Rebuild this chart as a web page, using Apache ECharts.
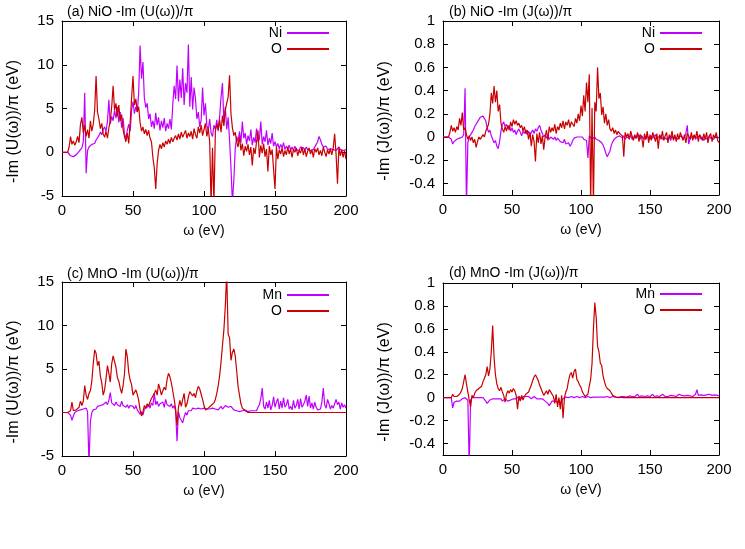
<!DOCTYPE html>
<html>
<head>
<meta charset="utf-8">
<script src="https://cdn.jsdelivr.net/npm/echarts@6/dist/echarts.min.js"></script>
<style>
html, body { margin: 0; padding: 0; background: #fff; }
#main { width: 745px; height: 549px; }
</style>
</head>
<body>
<div id="main"></div>
<script>
// omega grid, 1 eV step
var omega = [];
for (var i = 0; i <= 200; i++) omega.push(i);

var xTicks = [0, 50, 100, 150, 200];
var uTicks = [-5, 0, 5, 10, 15];
var jTicks = [-0.4, -0.2, 0, 0.2, 0.4, 0.6, 0.8, 1];

// (a) NiO -Im U
var aNi = [
  0, 0, 0, 0, 0, -0.2, -0.4, -0.6, -0.5, -0.4,
  -0.3, -0.1, 0.1, 0.3, 0.5, 1.2, 6.8, -2.4, 0.2, 0.6,
  0.8, 0.9, 1.1, 1.0, 1.4, 1.6, 1.9, 2.3, 2.0, 2.6,
  2.9, 2.4, 3.5, 6.0, 3.2, 4.1, 3.6, 4.8, 3.9, 5.2,
  3.4, 4.6, 2.8, 3.9, 2.1, 1.6, 2.5, 3.2, 2.4, 4.8,
  5.8, 4.4, 5.2, 4.6, 6.8, 12.2, 8.4, 10.3, 6.2, 5.1,
  5.6, 3.8, 4.4, 2.9, 3.6, 2.7, 4.5, 3.1, 4.0, 2.5,
  3.6, 2.8, 3.9, 2.4, 3.3, 2.7, 3.8, 2.6, 5.4, 7.6,
  6.1, 9.9, 5.8, 8.3, 6.2, 9.6, 5.4, 7.9, 6.8, 12.3,
  5.2, 8.6, 4.9, 7.4, 6.1, 3.8, 4.6, 2.9, 3.7, 7.4,
  4.2, 5.6, 3.1, 2.5, 3.8, 2.2, 1.8, 3.1, 2.6, 3.7,
  2.4, 4.1, 6.3, 7.9, 3.4, 5.2, 2.6, 4.0, 1.4, -1.8,
  -5.8, -3.2, 0.4, 1.8, 1.2, 2.4, 1.1, 3.5, 1.6, 2.2,
  0.9, 1.9, 1.3, 2.6, 0.8, 1.7, 1.1, 2.7, 1.2, 1.5,
  3.5, 0.9, 1.8, 1.2, 2.5, 0.8, 1.6, 1.0, 2.2, 0.7,
  1.2, 0.6, 1.0, 0.4, 0.9, 0.5, 1.1, 0.3, 0.7, 0.4,
  0.8, 0.3, 0.6, 0.2, 0.7, 0.3, 0.5, 0.2, 0.6, 0.4,
  0.5, 0.2, 0.6, 0.3, 0.5, 0.2, 0.4, 0.3, 0.5, 0.9,
  1.2, 1.8, 1.4, 0.9, 0.6, 0.4, 0.7, 0.3, 0.5, 0.4,
  0.6, 0.3, 0.5, 0.2, 0.4, 0.6, 0.3, 0.5, 0.2, 0.4,
  0.3
];
var aO = [
  0, 0, 0, 0, 0, 0.6, 1.8, 0.9, 1.3, 0.8,
  1.2, 1.8, 1.1, 3.2, 4.0, 2.2, 3.1, 1.8, 2.6, 1.6,
  3.6, 2.4, 3.2, 4.8, 8.7, 4.6, 3.8, 2.7, 3.3, 2.1,
  1.7, 2.4, 1.6, 2.8, 3.6, 5.2, 7.6, 4.8, 5.6, 4.1,
  5.4, 3.6, 4.3, 2.6, 1.8, 1.2, 2.2, 1.0, 3.4, 6.2,
  8.7, 5.4, 6.1, 4.6, 5.2, 3.4, 2.4, 2.9, 2.1, 2.6,
  1.9, 2.5, 1.6, 1.2, -0.6, -1.8, -4.2, -1.3, 0.2, 0.9,
  0.4, 1.1, 0.6, 1.3, 0.9, 1.5, 1.0, 1.7, 1.2, 1.6,
  1.9, 1.4, 2.1, 1.5, 2.3, 1.7, 1.9, 2.5, 1.6, 2.2,
  1.8, 2.4, 1.5, 2.7, 2.0, 1.6, 2.9, 2.2, 3.1, 1.9,
  2.6, 3.3, 1.8, 2.7, 1.2, -6.0, 0.5, -6.0, 2.4, 3.2,
  2.6, 3.7, 2.3, 4.2, 3.0, 4.8, 5.6, 6.3, 8.8, 4.4,
  2.8, 1.9, 2.3, 1.2, 0.6, 1.8, 0.2, 1.0, -0.4, 0.7,
  0.1, 0.9, -0.3, 0.6, -1.5, 0.5, -0.2, 1.2, 2.5, -0.6,
  0.8, -0.1, 1.0, -0.5, 0.4, -2.2, 0.7, -0.3, 0.3, 0.5,
  -4.2, 0.6, -0.8, 0.3, -0.2, 0.5, -0.5, 0.2, -0.3, 0.6,
  -0.2, 0.4, -0.6, 0.3, 0.0, 0.5, -0.4, 0.2, -0.1, 0.6,
  -0.3, 0.4, -0.5, 0.1, 0.5, -0.2, 0.3, -0.6, 0.4, 0.0,
  0.5, -0.3, 0.2, -0.4, 0.6, 0.0, -0.5, 0.3, -0.2, 0.4,
  -0.3, 0.5, 2.1, -0.2, -3.6, 0.6, -0.4, 0.3, -0.6, 0.2,
  -0.8
];

// (b) NiO -Im J
var bNi = [
  0, 0, 0, 0, 0, 0, -0.02, -0.06, -0.04, -0.03,
  -0.02, -0.02, -0.01, -0.01, 0.0, 0.02, 0.42, -0.6, -0.05, 0.0,
  0.02, 0.04, 0.06, 0.09, 0.11, 0.13, 0.15, 0.17, 0.16, 0.18,
  0.17, 0.14, 0.08, 0.04, 0.06, 0.01, -0.02, -0.05, -0.03, -0.08,
  -0.1, -0.04, 0.05, 0.11, 0.13, 0.09, 0.11, 0.07, 0.1, 0.05,
  0.08, 0.04, 0.06, 0.02, 0.05, 0.07, 0.04, 0.01, 0.05, 0.03,
  0.06, 0.02, 0.05, 0.01, 0.04, 0.06, 0.03, 0.07, 0.05, 0.08,
  0.1, 0.06, 0.03, 0.0, 0.02, -0.01, 0.01, -0.02, 0.0, -0.01,
  -0.02, 0.0, -0.03, -0.01, -0.02, -0.04, -0.03, -0.05, -0.02, -0.06,
  -0.07, -0.05, -0.08, -0.06, -0.03, -0.01, -0.02, 0.0, -0.01, 0.0,
  -0.01, 0.0, -0.02, -0.01, -0.03, -0.18, 0.01, 0.0, -0.02, -0.01,
  0.0, -0.02, -0.01, -0.03, -0.02, -0.05, -0.07, -0.1, -0.14, -0.17,
  -0.16, -0.12, -0.07, -0.04, -0.02, -0.01, 0.0, -0.01, 0.01, 0.0,
  -0.01, 0.01, -0.02, 0.0, 0.01, -0.01, 0.02, -0.02, 0.0, 0.01,
  -0.01, 0.0, 0.02, -0.02, 0.01, -0.01, 0.0, -0.02, 0.01, 0.0,
  -0.02, 0.01, -0.01, 0.0, 0.02, -0.02, 0.0, -0.01, 0.01, -0.02,
  0.0, 0.01, -0.02, -0.01, 0.0, -0.03, 0.01, -0.02, 0.0, -0.01,
  -0.02, 0.0, -0.01, 0.01, -0.02, 0.0, 0.03, 0.1, -0.06, -0.02,
  0.0, -0.01, 0.01, -0.02, 0.0, -0.01, 0.01, -0.02, 0.0, -0.03,
  -0.01, 0.0, -0.02, 0.01, -0.01, 0.0, -0.02, 0.0, -0.01, 0.0,
  -0.01
];
var bO = [
  0, 0, 0, 0, 0, 0.04, 0.1, 0.05, 0.08, 0.04,
  0.09, 0.06, 0.16, 0.1, 0.21, 0.06, 0.08, 0.02, -0.02, 0.01,
  -0.03, 0.0, -0.05, -0.02, -0.09, -0.04, 0.0, -0.02, -0.01, 0.02,
  0.0, 0.05, 0.08, 0.11, 0.2, 0.38, 0.29, 0.44, 0.3, 0.4,
  0.22, 0.28, 0.12, 0.07, 0.04, 0.09, 0.05, 0.1, 0.06, 0.13,
  0.09, 0.15, 0.11, 0.14, 0.1, 0.12, 0.08, 0.1, 0.05, 0.09,
  0.03, 0.06, -0.02, 0.04, -0.08, 0.02, -0.04, -0.21, 0.03, -0.05,
  0.04, -0.06, 0.01, -0.11, 0.0, 0.06, -0.03, 0.09, 0.04, 0.08,
  0.05, 0.11, 0.03, 0.09, 0.06, 0.12, 0.08, 0.14, 0.07, 0.13,
  0.1, 0.15, 0.08, 0.13, 0.11, 0.09, 0.16, 0.12, 0.2, 0.14,
  0.27, 0.18, 0.36, 0.22, 0.47, 0.3, 0.54, -0.6, 0.25, -0.6,
  0.3, 0.22, 0.6, 0.33, 0.38, 0.19, 0.26, 0.12, 0.2, 0.1,
  0.15, 0.07, 0.05, 0.08, 0.03, 0.06, 0.02, 0.05, 0.03, 0.04,
  0.01, -0.17, 0.04, 0.0, 0.03, -0.02, 0.05, 0.01, -0.03, 0.02,
  -0.01, 0.04, -0.04, 0.02, 0.0, -0.09, 0.03, -0.02, 0.05, -0.05,
  0.02, -0.03, 0.04, 0.0, -0.04, 0.03, -0.1, 0.02, -0.02, 0.05,
  -0.03, 0.01, 0.04, -0.05, 0.02, -0.01, 0.05, -0.03, 0.02, -0.04,
  0.03, -0.02, 0.04, 0.0, -0.03, 0.02, -0.05, 0.03, 0.01, -0.02,
  0.04, -0.03, 0.02, -0.01, 0.05, -0.04, 0.02, 0.0, -0.03, 0.03,
  -0.02, 0.04, -0.05, 0.01, 0.03, -0.04, 0.02, -0.01, 0.04, -0.03,
  -0.05
];

// (c) MnO -Im U
var cMn = [
  0, 0, 0, 0, 0, 0, -0.3, -0.9, -0.4, 0.0,
  0.1, 0.2, 0.1, 0.3, 0.2, 0.4, 0.3, 0.5, 0.1, -6.0,
  -1.0, 0.0, 0.3, 0.5, 0.4, 0.7, 0.6, 0.8, 0.7, 0.9,
  1.0, 1.2, 0.9, 1.4, 2.3, 1.1, 1.3, 0.8, 1.2, 0.9,
  1.1, 0.7, 1.3, 0.8, 1.0, 0.6, 0.9, 0.5, 0.8, 0.6,
  0.7, 0.4, 0.8, 0.3, 0.5, -0.2, 0.1, -0.3, 0.4, 0.2,
  0.6, 0.9, 0.5, 1.1, 0.8, 2.2, 0.9, 1.3, 0.7, 1.0,
  0.8, 1.2, 0.6, 1.5, 0.9, 1.1, 0.7, 1.0, 0.5, 0.8,
  0.2, -3.3, 0.1, -0.6, -0.9, -1.2, -0.5, 0.0, -0.3, 0.2,
  0.4, 0.2, 0.5, 0.3, 0.4, 0.2, 0.5, 0.3, 0.4, 0.3,
  0.5, 0.3, 0.4, 0.6, 0.4, 0.3, 0.5, 0.7, 0.4, 0.6,
  0.3, 0.5, 0.7, 0.4, 0.6, 0.8, 1.0, 0.6, 0.4, 0.7,
  0.5, 0.3, 0.4, 0.2, 0.3, 0.1, 0.3, 0.2, 0.1, 0.3,
  0.2, 0.1, 0.3, 0.2, 0.1, 0.2, 0.3, 0.2, 0.6, 0.9,
  1.6, 2.8, 0.7, 0.4, 1.2, 0.5, 1.4, 0.3, 0.8, 1.8,
  0.6, 1.2, 1.6, 0.4, 1.3, 0.5, 1.7, 0.6, 0.9, 1.5,
  0.4, 0.7, 0.3, 1.4, 0.5, 0.8, 1.5, 0.4, 1.6, 0.6,
  0.9, 1.3, 2.0, 0.7, 1.9, 0.5, 1.1, 0.4, 1.2, 0.6,
  0.3, 0.5, 0.4, 1.2, 2.8, 0.9, 0.5, 1.5, 1.0, 0.4,
  0.8, 0.5, 0.3, 1.5, 0.9, 1.2, 0.4, 1.1, 0.6, 0.9,
  0.5
];
var cO = [
  0, 0, 0, 0, 0, 0, 0.2, 1.2, 0.2, 0.1,
  0.3, 0.2, 0.6, 1.3, 0.8, 1.3, 3.1, 2.0, 1.5, 2.2,
  2.5, 3.6, 5.6, 7.2, 6.8, 5.4, 5.9, 4.2, 3.4, 2.0,
  2.6, 3.9, 5.4, 4.5, 3.5, 5.6, 6.5, 6.3, 5.2, 4.0,
  3.6, 2.8, 2.2, 3.1, 4.4, 7.3, 6.4, 4.6, 3.7, 3.2,
  2.0, 2.3, 2.6, 2.1, 1.4, 0.3, -0.4, 0.1, 0.8, 0.5,
  1.0, 0.7, 1.2, 1.6, 1.9, 2.2, 2.6, 2.0, 3.3, 2.7,
  2.0, 2.5, 2.9, 2.6, 3.8, 4.5, 4.1, 3.4, 2.5, 1.5,
  0.4, -1.5, 0.6, 1.4, 0.7, 1.5, 2.2, 0.6, 1.0, 1.8,
  2.4, 2.6, 1.9, 2.2, 1.7, 2.5, 3.0, 2.7, 2.1, 1.5,
  0.8, 0.3, 0.2, 0.5, 0.4, 0.8, 0.6, 1.1, 1.5, 2.2,
  3.1, 4.2, 5.8, 7.7, 9.5, 12.2, 16.0, 9.0, 8.6, 6.0,
  6.9, 7.3, 6.5, 4.8, 3.0, 2.0, 1.0, 0.5, 0.3, 0.2,
  0.1, 0.0, -0.1, 0.0, -0.1, 0.0, 0.05, 0.0, 0.03, 0.0,
  0, 0, 0, 0, 0, 0, 0, 0, 0, 0,
  0, 0, 0, 0, 0, 0, 0, 0, 0, 0,
  0, 0, 0, 0, 0, 0, 0, 0, 0, 0,
  0, 0, 0, 0, 0, 0, 0, 0, 0, 0,
  0, 0, 0, 0, 0, 0, 0, 0, 0, 0,
  0, 0, 0, 0, 0, 0, 0, 0, 0, 0,
  0
];

// (d) MnO -Im J
var dMn = [
  0, 0, 0, 0, 0, 0, 0, -0.09, -0.04, -0.03,
  -0.03, -0.02, -0.03, -0.02, -0.01, -0.01, 0.0, -0.01, -0.02, -0.6,
  -0.02, 0.0, 0.01, 0.0, 0.01, 0.0, 0.01, 0.0, 0.01, 0.0,
  -0.01, -0.03, -0.05, -0.04, -0.02, -0.01, -0.01, -0.02, -0.01, -0.02,
  -0.01, -0.02, -0.01, -0.03, -0.02, -0.01, -0.02, -0.03, -0.04, -0.02,
  -0.03, -0.01, 0.0, -0.01, 0.0, 0.01, 0.0, -0.01, 0.01, 0.0,
  0.01, 0.0, 0.01, 0.0, -0.01, 0.0, 0.01, 0.0, -0.01, 0.0,
  -0.01, -0.02, -0.01, -0.02, -0.03, -0.04, -0.05, -0.07, -0.05, -0.03,
  -0.02, -0.03, -0.02, -0.04, -0.02, -0.05, -0.03, -0.01, 0.0, 0.005,
  0.005, 0.0, 0.005, 0.01, 0.005, 0.0, 0.005, 0.01, 0.005, 0.0,
  0.005, 0.01, 0.005, 0.0, 0.005, 0.01, 0.005, 0.0, 0.01, 0.005,
  0.0, 0.005, 0.01, 0.005, 0.0, 0.005, 0.01, 0.005, 0.0, 0.01,
  0.005, 0.0, 0.005, 0.01, 0.0, 0.005, 0.01, 0.0, 0.005, 0.01,
  0.005, 0.01, 0.0, 0.005, 0.01, 0.015, 0.005, 0.01, 0.02, 0.01,
  0.015, 0.03, 0.01, 0.02, 0.015, 0.03, 0.01, 0.025, 0.015, 0.03,
  0.01, 0.02, 0.03, 0.01, 0.025, 0.015, 0.03, 0.01, 0.02, 0.03,
  0.015, 0.01, 0.02, 0.01, 0.015, 0.02, 0.01, 0.015, 0.025, 0.01,
  0.02, 0.03, 0.04, 0.02, 0.035, 0.015, 0.025, 0.02, 0.03, 0.015,
  0.02, 0.01, 0.025, 0.03, 0.07, 0.02, 0.015, 0.025, 0.01, 0.02,
  0.015, 0.025, 0.02, 0.03, 0.015, 0.02, 0.01, 0.025, 0.015, 0.02,
  0.015
];
var dO = [
  0, 0, 0, 0, 0, 0, 0, 0.03, 0.01, 0.02,
  0.01, 0.02, 0.03, 0.05, 0.08, 0.14, 0.2, 0.12, 0.05, -0.02,
  -0.08, 0.02, 0.0, 0.04, 0.06, 0.05, 0.08, 0.07, 0.1, 0.14,
  0.17, 0.2, 0.27, 0.19, 0.25, 0.4, 0.63, 0.35, 0.2, 0.12,
  0.08, 0.06, 0.09, 0.05, 0.02, -0.04, 0.03, 0.06, 0.04, 0.07,
  0.05, 0.08, 0.06, 0.02, -0.1, 0.01, -0.03, 0.02, -0.02, 0.01,
  0.03, 0.02, 0.05, 0.08, 0.11, 0.15, 0.18, 0.2, 0.19, 0.15,
  0.11, 0.08, 0.05, 0.02, 0.04, 0.06, 0.03, 0.07, 0.05, 0.06,
  0.01, -0.05, 0.03, -0.08, 0.0, -0.1, 0.02, -0.18, 0.0, 0.05,
  0.08, 0.15, 0.2, 0.22, 0.17, 0.23, 0.25, 0.16, 0.14, 0.11,
  0.09, 0.05, 0.03, 0.01, 0.0, 0.03, 0.1, 0.16, 0.3, 0.6,
  0.83, 0.7, 0.45, 0.4, 0.3, 0.28, 0.19, 0.14, 0.1, 0.08,
  0.09, 0.06, 0.05, 0.02, 0.01, 0.005, 0.003, 0.003, 0.003, 0.003,
  0, 0, 0, 0, 0, 0, 0, 0, 0, 0,
  0, 0, 0, 0, 0, 0, 0, 0, 0, 0,
  0, 0, 0, 0, 0, 0, 0, 0, 0, 0,
  0, 0, 0, 0, 0, 0, 0, 0, 0, 0,
  0, 0, 0, 0, 0, 0, 0, 0, 0, 0,
  0, 0, 0, 0, 0, 0, 0, 0, 0, 0,
  0, 0, 0, 0, 0, 0, 0, 0, 0, 0,
  0
];

var FONT = '"Liberation Sans", Arial, sans-serif';
var PURPLE = '#c000ff';
var DARKRED = '#c80000';

var panels = [
  {title: '(a) NiO -Im (U(\u03c9))/\u03c0', yName: '-Im (U(\u03c9))/\u03c0 (eV)', yMin: -5, yMax: 15, yTicks: uTicks, names: ['Ni', 'O'], data: [aNi, aO]},
  {title: '(b) NiO -Im (J(\u03c9))/\u03c0', yName: '-Im (J(\u03c9))/\u03c0 (eV)', yMin: -0.5, yMax: 1, yTicks: jTicks, names: ['Ni', 'O'], data: [bNi, bO]},
  {title: '(c) MnO -Im (U(\u03c9))/\u03c0', yName: '-Im (U(\u03c9))/\u03c0 (eV)', yMin: -5, yMax: 15, yTicks: uTicks, names: ['Mn', 'O'], data: [cMn, cO]},
  {title: '(d) MnO -Im (J(\u03c9))/\u03c0', yName: '-Im (J(\u03c9))/\u03c0 (eV)', yMin: -0.5, yMax: 1, yTicks: jTicks, names: ['Mn', 'O'], data: [dMn, dO]}
];

// layout, px
var layout = [
  {grid: {left: 62, top: 21, width: 284, height: 175}, titleLeft: 67, titleTop: 5, legendRight: 416, legendTop: [26, 42], nameGap: 40},
  {grid: {left: 443, top: 21, width: 276, height: 174}, titleLeft: 449, titleTop: 5, legendRight: 43, legendTop: [26, 42], nameGap: 50},
  {grid: {left: 62, top: 282, width: 284, height: 174}, titleLeft: 67, titleTop: 267, legendRight: 416, legendTop: [288, 304], nameGap: 40},
  {grid: {left: 443, top: 283, width: 276, height: 172}, titleLeft: 449, titleTop: 266, legendRight: 43, legendTop: [287, 303], nameGap: 50}
];

var txt = {color: '#000', fontSize: 14, fontFamily: FONT};
// y titles sit a little below the plot centre, like the original
var nameTxt = {color: '#000', fontSize: 16, fontFamily: FONT, padding: [0, 26, 0, 0]};
var tickTxt = {color: '#000', fontSize: 15, fontFamily: FONT};
var blackLine = {color: '#000', width: 1};

var option = {
  animation: false,
  backgroundColor: '#fff',
  title: [], grid: [], xAxis: [], yAxis: [], legend: [], series: []
};

panels.forEach(function (p, k) {
  var L = layout[k];
  option.grid.push(L.grid);
  option.title.push({
    text: p.title, left: L.titleLeft, top: L.titleTop, padding: 0,
    textStyle: {color: '#000', fontSize: 14, fontWeight: 'normal', fontFamily: FONT}
  });
  // bottom + mirrored top x axis
  option.xAxis.push({
    gridIndex: k, type: 'value', min: 0, max: 200, interval: 50, position: 'bottom',
    name: '\u03c9 (eV)', nameLocation: 'middle', nameGap: 28, nameTextStyle: txt,
    axisLine: {show: true, onZero: false, lineStyle: blackLine},
    axisTick: {inside: true, length: 5, lineStyle: blackLine},
    axisLabel: Object.assign({margin: 7}, tickTxt),
    splitLine: {show: false}
  });
  option.xAxis.push({
    gridIndex: k, type: 'value', min: 0, max: 200, interval: 50, position: 'top',
    axisLine: {show: true, onZero: false, lineStyle: blackLine},
    axisTick: {inside: true, length: 5, lineStyle: blackLine},
    axisLabel: {show: false}, splitLine: {show: false}
  });
  // left + mirrored right y axis
  option.yAxis.push({
    gridIndex: k, type: 'value', min: p.yMin, max: p.yMax, position: 'left',
    name: p.yName, nameLocation: 'middle', nameGap: L.nameGap, nameTextStyle: nameTxt,
    axisLine: {show: true, onZero: false, lineStyle: blackLine},
    axisTick: {inside: true, length: 5, lineStyle: blackLine, customValues: p.yTicks},
    axisLabel: Object.assign({margin: 8, customValues: p.yTicks}, tickTxt),
    splitLine: {show: false}
  });
  option.yAxis.push({
    gridIndex: k, type: 'value', min: p.yMin, max: p.yMax, position: 'right',
    axisLine: {show: true, onZero: false, lineStyle: blackLine},
    axisTick: {inside: true, length: 5, lineStyle: blackLine, customValues: p.yTicks},
    axisLabel: {show: false}, splitLine: {show: false}
  });
  var colors = [PURPLE, DARKRED];
  p.names.forEach(function (nm, j) {
    option.series.push({
      name: nm, type: 'line', xAxisIndex: 2 * k, yAxisIndex: 2 * k,
      showSymbol: false, symbol: 'none', clip: true,
      lineStyle: {color: colors[j], width: 1.2},
      itemStyle: {color: colors[j]},
      data: p.data[j].map(function (v, i) { return [omega[i], v]; })
    });
    option.legend.push({
      data: [nm], orient: 'vertical', align: 'right', selectedMode: false,
      right: L.legendRight, top: L.legendTop[j], padding: 0,
      icon: 'rect', itemWidth: 42, itemHeight: 2,
      itemStyle: {color: colors[j]},
      textStyle: txt
    });
  });
});

var chart = echarts.init(document.getElementById('main'));
chart.setOption(option);
</script>
</body>
</html>
